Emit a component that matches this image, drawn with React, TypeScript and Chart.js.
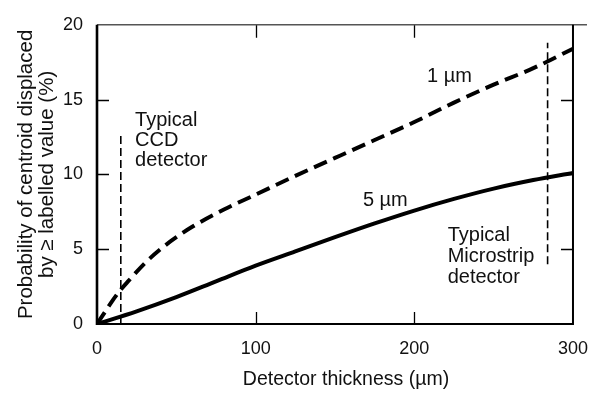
import React, { useEffect, useRef } from "react";
import { Chart, registerables } from "chart.js";

Chart.register(...registerables);

// ---- data ----
const oneMicronX = [0, 5, 10, 15, 20, 30, 40, 50, 60, 80, 100, 125, 150, 175, 200, 225, 250, 275, 300];
const oneMicronY = [0, 0.8, 1.6, 2.3, 2.9, 4.05, 5.0, 5.8, 6.5, 7.65, 8.65, 9.9, 11.1, 12.3, 13.5, 14.8, 16.0, 17.1, 18.4];
const fiveMicronX = [0, 25, 50, 75, 100, 125, 150, 175, 200, 225, 250, 275, 300];
const fiveMicronY = [0, 0.85, 1.8, 2.85, 3.9, 4.85, 5.8, 6.72, 7.58, 8.36, 9.05, 9.62, 10.1];
const ccdMarkerX = [15, 15];
const ccdMarkerY = [0, 12.8];
const stripMarkerX = [284, 284];
const stripMarkerY = [4.0, 18.8];
const xTicks = [0, 100, 200, 300];
const yTicks = [0, 5, 10, 15, 20];

const xTitle = "Detector thickness (µm)";
const yTitle = ["Probability of centroid displaced", "by ≥ labelled value (%)"];

const FONT = '"Liberation Sans", Arial, Helvetica, sans-serif';

const pts = (xs: number[], ys: number[]) => xs.map((x, i) => ({ x, y: ys[i] }));

const framePlugin = {
  id: "frame",
  afterDatasetsDraw(chart: any) {
    const { ctx, chartArea: a } = chart;
    const xs = chart.scales.x;
    const ys = chart.scales.y;
    ctx.save();
    ctx.strokeStyle = "#000";
    ctx.lineCap = "butt";
    // inward ticks
    ctx.lineWidth = 1.3;
    [100, 200].forEach((v) => {
      const px = Math.round(xs.getPixelForValue(v)) + 0.5;
      ctx.beginPath();
      ctx.moveTo(px, a.bottom);
      ctx.lineTo(px, a.bottom - 12);
      ctx.moveTo(px, a.top);
      ctx.lineTo(px, a.top + 13);
      ctx.stroke();
    });
    [5, 10, 15].forEach((v) => {
      const py = Math.round(ys.getPixelForValue(v)) + 0.5;
      ctx.beginPath();
      ctx.moveTo(a.left, py);
      ctx.lineTo(a.left + 12, py);
      ctx.moveTo(a.right, py);
      ctx.lineTo(a.right - 12, py);
      ctx.stroke();
    });
    // frame
    ctx.strokeStyle = "#555";
    ctx.lineWidth = 1.5;
    ctx.beginPath();
    ctx.moveTo(a.left, a.top);
    ctx.lineTo(a.right + 14, a.top);
    ctx.stroke();
    ctx.strokeStyle = "#000";
    ctx.lineWidth = 2;
    ctx.beginPath();
    ctx.moveTo(a.left, a.bottom);
    ctx.lineTo(a.right, a.bottom);
    ctx.lineTo(a.right, a.top);
    ctx.stroke();
    ctx.lineWidth = 2.6;
    ctx.beginPath();
    ctx.moveTo(a.left, a.top);
    ctx.lineTo(a.left, a.bottom + 1);
    ctx.stroke();

    // texts
    ctx.fillStyle = "#111";
    ctx.font = `20px ${FONT}`;
    ctx.textBaseline = "middle";
    ctx.textAlign = "left";
    const T = (s: string, xv: number, yv: number) =>
      ctx.fillText(s, xs.getPixelForValue(xv), ys.getPixelForValue(yv));
    T("1 µm", 208, 16.57);
    T("5 µm", 167.6, 8.28);
    T("Typical", 24, 13.6);
    T("CCD", 24, 12.25);
    T("detector", 24, 10.9);
    T("Typical", 221, 5.9);
    T("Microstrip", 221, 4.5);
    T("detector", 221, 3.1);

    // axis titles
    ctx.textAlign = "center";
    ctx.font = `19.5px ${FONT}`;
    ctx.fillText(xTitle, 346, 380);
    ctx.font = `20.5px ${FONT}`;
    ctx.save();
    ctx.translate(26, (a.top + a.bottom) / 2);
    ctx.rotate(-Math.PI / 2);
    ctx.fillText(yTitle[0], 0, 0);
    ctx.restore();
    ctx.save();
    ctx.translate(47, (a.top + a.bottom) / 2);
    ctx.rotate(-Math.PI / 2);
    ctx.fillText(yTitle[1], 0, 0);
    ctx.restore();
    ctx.restore();
  },
};

export default function App() {
  const ref = useRef<HTMLCanvasElement | null>(null);
  useEffect(() => {
    if (!ref.current) return;
    const chart = new Chart(ref.current, {
      type: "line",
      data: {
        datasets: [
          {
            label: "1 µm",
            data: pts(oneMicronX, oneMicronY),
            borderColor: "#000",
            borderWidth: 4,
            borderDash: [14, 7],
            pointRadius: 0,
            cubicInterpolationMode: "monotone",
            fill: false,
          },
          {
            label: "5 µm",
            data: pts(fiveMicronX, fiveMicronY),
            borderColor: "#000",
            borderWidth: 4,
            pointRadius: 0,
            cubicInterpolationMode: "monotone",
            fill: false,
          },
          {
            label: "CCD",
            data: pts(ccdMarkerX, ccdMarkerY),
            borderColor: "#000",
            borderWidth: 1.6,
            borderDash: [8, 4],
            pointRadius: 0,
            fill: false,
          },
          {
            label: "Microstrip",
            data: pts(stripMarkerX, stripMarkerY),
            borderColor: "#000",
            borderWidth: 1.6,
            borderDash: [8, 4],
            pointRadius: 0,
            fill: false,
          },
        ],
      },
      options: {
        animation: false,
        responsive: false,
        devicePixelRatio: 1,
        layout: { padding: { top: 15, right: 29, left: 0, bottom: 0 } },
        plugins: { legend: { display: false }, tooltip: { enabled: false } },
        scales: {
          x: {
            type: "linear",
            min: 0,
            max: 300,
            afterBuildTicks: (s: any) => {
              s.ticks = xTicks.map((v) => ({ value: v }));
            },
            afterFit: (s: any) => {
              s.height = 69;
            },
            grid: { display: false, drawTicks: false },
            border: { display: false },
            ticks: {
              color: "#111",
              font: { family: FONT, size: 18 },
              padding: 14,
              maxRotation: 0,
            },
          },
          y: {
            type: "linear",
            min: 0,
            max: 20,
            afterBuildTicks: (s: any) => {
              s.ticks = yTicks.map((v) => ({ value: v }));
            },
            afterFit: (s: any) => {
              s.width = 97;
            },
            grid: { display: false, drawTicks: false },
            border: { display: false },
            ticks: {
              color: "#111",
              font: { family: FONT, size: 18 },
              padding: 14,
            },
          },
        },
      },
      plugins: [framePlugin],
    });
    return () => chart.destroy();
  }, []);
  return (
    <div style={{ position: "fixed", left: 0, top: 0, width: 602, height: 393, background: "#fff" }}>
      <canvas ref={ref} width={602} height={393} />
    </div>
  );
}
